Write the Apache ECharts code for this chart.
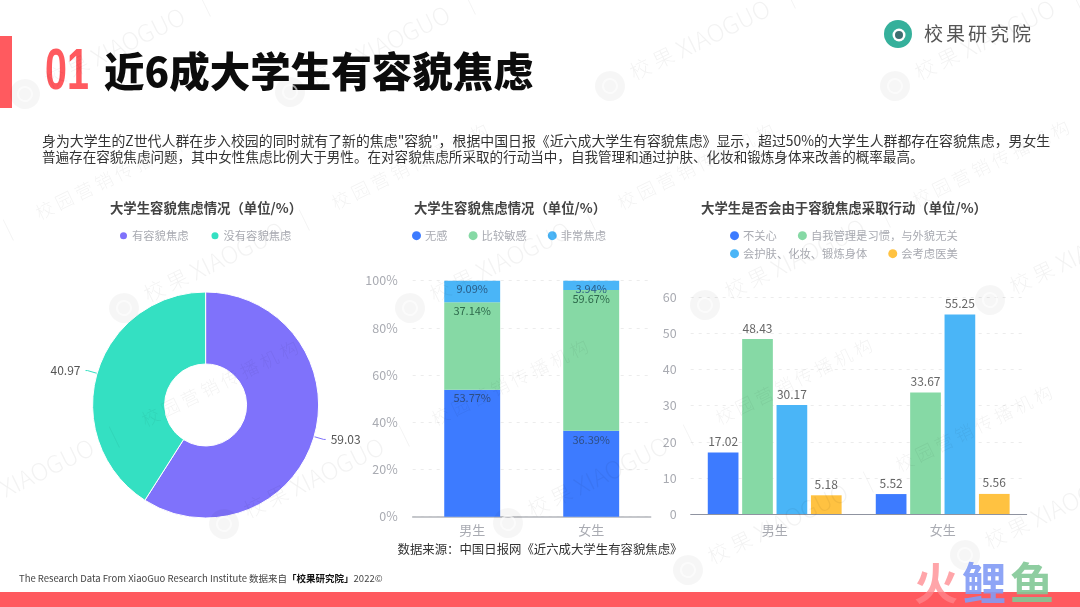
<!DOCTYPE html>
<html>
<head>
<meta charset="utf-8">
<title>近6成大学生有容貌焦虑</title>
<style>
  html, body { margin: 0; padding: 0; background: #fff; }
  #main { width: 1080px; height: 607px; }
</style>
<script src="https://cdn.jsdelivr.net/npm/echarts@6/dist/echarts.min.js"></script>
</head>
<body>
<div id="main"></div>
<script>
// 数据
var pieNames = ["有容貌焦虑", "没有容貌焦虑"];
var pieValues = [59.03, 40.97];

var genders = ["男生", "女生"];
var stackNames = ["无感", "比较敏感", "非常焦虑"];
var stackNone = [53.77, 36.39];
var stackSensitive = [37.14, 59.67];
var stackAnxious = [9.09, 3.94];
var percentTicks = [0, 20, 40, 60, 80, 100];

var actionNames = ["不关心", "自我管理是习惯，与外貌无关", "会护肤、化妆、锻炼身体", "会考虑医美"];
var actionCare = [17.02, 5.52];
var actionHabit = [48.43, 33.67];
var actionSkin = [30.17, 55.25];
var actionMedical = [5.18, 5.56];

var bodyLines = [
  "身为大学生的Z世代人群在步入校园的同时就有了新的焦虑\"容貌\"，根据中国日报《近六成大学生有容貌焦虑》显示，超过50%的大学生人群都存在容貌焦虑，男女生",
  "普遍存在容貌焦虑问题，其中女性焦虑比例大于男性。在对容貌焦虑所采取的行动当中，自我管理和通过护肤、化妆和锻炼身体来改善的概率最高。"
];

// 水印起点
var markSpots = [
  [25, 94], [290, 92], [610, 86], [895, 86],
  [-172, 318], [124, 308], [410, 308], [705, 305], [990, 300],
  [-66, 525], [224, 524], [508, 523], [688, 570], [965, 555]
];

var CJK = '"Noto Sans CJK SC", "Noto Sans", sans-serif';
var RED = "#ff5a5f";
var BLUE = "#3d7bff";
var GREEN = "#86d9a5";
var SKY = "#4ab5f7";
var YELLOW = "#ffc241";

function text(x, y, str, font, fill, align, z) {
  return {
    type: "text",
    z: z || 10,
    style: {
      x: x,
      y: y,
      text: str,
      font: font,
      fill: fill,
      align: align || "left",
      verticalAlign: "middle"
    }
  };
}

// 一条倾斜水印
function watermark(spot) {
  var ink = "rgba(0,0,0,0.05)";
  return {
    type: "group",
    x: spot[0],
    y: spot[1],
    rotation: (26 * Math.PI) / 180,
    z: 100,
    silent: true,
    children: [
      { type: "circle", shape: { cx: 0, cy: 0, r: 15 }, style: { fill: "rgba(0,0,0,0.035)" }, z: 100 },
      { type: "circle", shape: { cx: 0, cy: 0, r: 7 }, style: { fill: "none", stroke: "rgba(255,255,255,0.6)", lineWidth: 2 }, z: 100 },
      text(24, -2, "校 果", "300 21px " + CJK, ink, "left", 100),
      text(76, -2, "XIAOGUO", "300 24px " + CJK, ink, "left", 100),
      text(198, -2, "|", "300 21px " + CJK, ink, "left", 100),
      text(233, -2, "校 园 营 销 传 播 机 构", "300 18px " + CJK, ink, "left", 100)
    ]
  };
}

var logoChars = "校果研究院".split("").map(function(ch, i) {
  return text(924 + i * 22, 34, ch, "400 19px " + CJK, "#555");
});

var graphics = [
  { type: "rect", shape: { x: 0, y: 36, width: 12, height: 72 }, style: { fill: RED }, z: 10 },
  { type: "rect", shape: { x: 0, y: 592, width: 1080, height: 15 }, style: { fill: RED }, z: 10 },
  {
    type: "text",
    z: 10,
    x: 45,
    y: 73,
    scaleX: 0.68,
    style: { x: 0, y: 0, text: "01", font: '900 58px "Liberation Sans", sans-serif', fill: RED, verticalAlign: "middle" }
  },
  text(104, 72, "近6成大学生有容貌焦虑", "900 40.5px " + CJK, "#0c0c0c"),
  text(42, 141, bodyLines[0], "400 13.9px " + CJK, "#333"),
  text(42, 157, bodyLines[1], "400 13.57px " + CJK, "#333"),
  text(206, 208, "大学生容貌焦虑情况（单位/%）", "700 13.4px " + CJK, "#444", "center"),
  text(510, 208, "大学生容貌焦虑情况（单位/%）", "700 13.4px " + CJK, "#444", "center"),
  text(844, 208, "大学生是否会由于容貌焦虑采取行动（单位/%）", "700 13.4px " + CJK, "#444", "center"),
  text(540, 549, "数据来源：中国日报网《近六成大学生有容貌焦虑》", "400 12.4px " + CJK, "#333", "center"),
  {
    type: "text",
    z: 10,
    style: {
      x: 19,
      y: 578,
      text: "{a|The Research Data From XiaoGuo Research Institute 数据来自}{b|「校果研究院」}{a|2022©}",
      verticalAlign: "middle",
      rich: {
        a: { font: "400 9.5px " + CJK, fill: "#444" },
        b: { font: "700 9.5px " + CJK, fill: "#111" }
      }
    }
  },
  // 校果研究院 logo
  { type: "circle", shape: { cx: 898, cy: 34, r: 14 }, style: { fill: "#35b09b" }, z: 10 },
  { type: "circle", shape: { cx: 899, cy: 35, r: 6.5 }, style: { fill: "#fff" }, z: 11 },
  { type: "circle", shape: { cx: 899, cy: 35, r: 4 }, style: { fill: "#3f6f70" }, z: 12 },
  // 右下角水印
  text(914, 583, "火", "700 44px " + CJK, "rgba(255,135,140,0.75)", "left", 101),
  text(962, 583, "鲤", "700 44px " + CJK, "rgba(130,155,245,0.9)", "left", 101),
  text(1010, 583, "鱼", "700 44px " + CJK, "rgba(130,200,150,0.9)", "left", 101)
].concat(logoChars, markSpots.map(watermark));

var myChart = echarts.init(document.getElementById("main"));

var axisText = { color: "#a9abb2", fontSize: 12.5, fontFamily: CJK };
var legendBase = {
  orient: "horizontal",
  icon: "circle",
  itemWidth: 9,
  itemHeight: 9,
  itemGap: 21,
  textStyle: { color: "#a9abb2", fontSize: 11.3, fontFamily: CJK, padding: [0, 0, 0, -1] }
};

function legend(extra) {
  return Object.assign({}, legendBase, extra);
}

function stackSeries(name, values, color, labelColor) {
  return {
    name: name,
    type: "bar",
    stack: "total",
    xAxisIndex: 0,
    yAxisIndex: 0,
    barWidth: "47%",
    itemStyle: { color: color },
    label: {
      show: true,
      position: "insideTop",
      distance: 3,
      formatter: "{c}%",
      color: labelColor,
      fontSize: 11,
      fontFamily: CJK
    },
    data: values
  };
}

function actionSeries(name, values, color) {
  return {
    name: name,
    type: "bar",
    xAxisIndex: 1,
    yAxisIndex: 1,
    barWidth: 30.7,
    barGap: "12%",
    itemStyle: { color: color },
    label: {
      show: true,
      position: "top",
      distance: 5,
      color: "#666",
      fontSize: 12,
      fontFamily: CJK
    },
    data: values
  };
}

var option = {
  animation: false,
  backgroundColor: "#fff",
  textStyle: { fontFamily: CJK },
  legend: [
    legend({ left: 113, top: 225, data: pieNames }),
    legend({ left: 407, top: 225, data: stackNames }),
    legend({ left: 725, top: 225, data: actionNames.slice(0, 2) }),
    legend({ left: 725, top: 243, data: actionNames.slice(2) })
  ],
  grid: [
    { left: 412.7, top: 280.7, width: 238, height: 236 },
    { left: 690.7, top: 297.3, width: 336, height: 216.7 }
  ],
  xAxis: [
    {
      type: "category",
      gridIndex: 0,
      data: genders,
      axisTick: { show: false },
      axisLine: { lineStyle: { color: "#b4b6bc", width: 1.5 } },
      axisLabel: Object.assign({ margin: 7 }, axisText, { fontSize: 13 })
    },
    {
      type: "category",
      gridIndex: 1,
      data: genders,
      axisTick: { show: false },
      axisLine: { lineStyle: { color: "#8f93a0", width: 1 } },
      axisLabel: Object.assign({ margin: 10 }, axisText, { fontSize: 13 })
    }
  ],
  yAxis: [
    {
      type: "value",
      gridIndex: 0,
      min: percentTicks[0],
      max: percentTicks[percentTicks.length - 1],
      interval: 20,
      axisLine: { show: false },
      axisTick: { show: false },
      axisLabel: Object.assign({ margin: 15, formatter: "{value}%" }, axisText),
      splitLine: { lineStyle: { color: "#ececec", type: [3, 5] } }
    },
    {
      type: "value",
      gridIndex: 1,
      min: 0,
      max: 60,
      interval: 10,
      axisLine: { show: false },
      axisTick: { show: false },
      axisLabel: Object.assign({ margin: 14 }, axisText),
      splitLine: { lineStyle: { color: "#ececec", type: [3, 5] } }
    }
  ],
  series: [
    {
      name: "大学生容貌焦虑情况",
      type: "pie",
      center: [205.6, 405],
      radius: [41, 113],
      startAngle: 90,
      color: ["#7f72fb", "#34e0c2"],
      itemStyle: { borderColor: "#fff", borderWidth: 1 },
      label: { show: true, color: "#555", fontSize: 12, fontFamily: CJK, formatter: "{c}" },
      labelLine: { show: true, length: 10, length2: 2, lineStyle: { width: 1 } },
      data: pieNames.map(function(name, i) {
        return { name: name, value: pieValues[i] };
      })
    },
    stackSeries(stackNames[0], stackNone, BLUE, "#2f4f86"),
    stackSeries(stackNames[1], stackSensitive, GREEN, "#2e6a4c"),
    stackSeries(stackNames[2], stackAnxious, SKY, "#2a5c86"),
    actionSeries(actionNames[0], actionCare, BLUE),
    actionSeries(actionNames[1], actionHabit, GREEN),
    actionSeries(actionNames[2], actionSkin, SKY),
    actionSeries(actionNames[3], actionMedical, YELLOW)
  ],
  graphic: { elements: graphics }
};

myChart.setOption(option);
window.addEventListener("resize", function() {
  myChart.resize();
});
</script>
</body>
</html>
